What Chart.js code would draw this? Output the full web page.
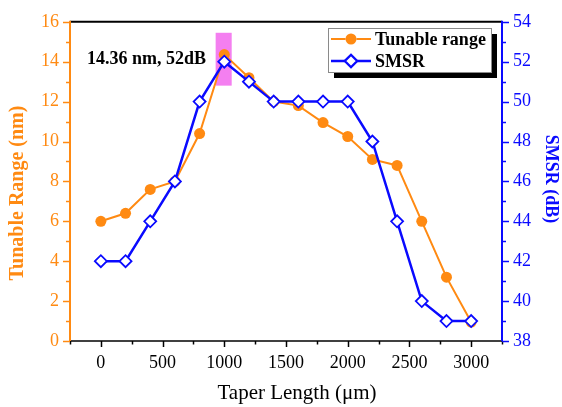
<!DOCTYPE html>
<html><head><meta charset="utf-8">
<script src="https://cdn.jsdelivr.net/npm/chart.js@4/dist/chart.umd.min.js"></script>
<style>html,body{margin:0;padding:0;background:#fff}</style>
</head><body>
<canvas id="c" width="562" height="407"></canvas>
<script>
const taperLength = [0, 200, 400, 600, 800, 1000, 1200, 1400, 1600, 1800, 2000, 2200, 2400, 2600, 2800, 3000];
const tunableRange = [6.0, 6.4, 7.6, 8.0, 10.4, 14.36, 13.2, 12.0, 11.8, 10.95, 10.25, 9.1, 8.8, 6.0, 3.2, 0.95];
const smsr = [42, 42, 44, 46, 50, 52, 51, 50, 50, 50, 50, 48, 44, 40, 39, 39];
const xTickLabels = [0, 500, 1000, 1500, 2000, 2500, 3000];
const leftTickLabels = [0, 2, 4, 6, 8, 10, 12, 14, 16];
const rightTickLabels = [38, 40, 42, 44, 46, 48, 50, 52, 54];
const seriesNames = ['Tunable range', 'SMSR'];
const axisTitles = { x: 'Taper Length (\u03bcm)', left: 'Tunable Range (nm)', right: 'SMSR (dB)' };
const annotationText = '14.36 nm, 52dB';
const highlightXRange = [930, 1060];
const highlightYRange = [12.8, 15.45];

const ORANGE = '#ff8a12';
const BLUE = '#0a0aff';
const SERIF = '"Liberation Serif", "Times New Roman", serif';

function rangeTicks(min, max, step) {
  const t = [];
  for (let v = min; v <= max + 1e-9; v += step) t.push({ value: +v.toFixed(6) });
  return t;
}

const custom = {
  id: 'custom',
  beforeDatasetsDraw(chart) {
    const { ctx } = chart;
    const x = chart.scales.x, y = chart.scales.y;
    const x0 = x.getPixelForValue(highlightXRange[0]), x1 = x.getPixelForValue(highlightXRange[1]);
    const y0 = y.getPixelForValue(highlightYRange[1]), y1 = y.getPixelForValue(highlightYRange[0]);
    ctx.save();
    ctx.fillStyle = '#f47ff0';
    ctx.fillRect(x0, y0, x1 - x0, y1 - y0);
    ctx.restore();
  },
  afterDraw(chart) {
    const { ctx, chartArea: a } = chart;
    const x = chart.scales.x, y = chart.scales.y, y1 = chart.scales.y1;
    ctx.save();
    // top frame line
    ctx.strokeStyle = '#000'; ctx.lineWidth = 2;
    ctx.beginPath(); ctx.moveTo(a.left, a.top); ctx.lineTo(a.right, a.top); ctx.stroke();
    // bottom axis
    ctx.lineWidth = 1.5; ctx.strokeStyle = '#000';
    ctx.beginPath(); ctx.moveTo(a.left, a.bottom); ctx.lineTo(a.right, a.bottom); ctx.stroke();
    x.ticks.forEach(t => {
      const px = Math.round(x.getPixelForValue(t.value)) + 0.5;
      const major = t.value % 500 === 0;
      ctx.beginPath(); ctx.moveTo(px, a.bottom); ctx.lineTo(px, a.bottom + (major ? 6 : 3.5)); ctx.stroke();
    });
    // left axis
    ctx.strokeStyle = ORANGE; ctx.lineWidth = 2;
    ctx.beginPath(); ctx.moveTo(a.left, a.top - 1); ctx.lineTo(a.left, a.bottom); ctx.stroke();
    ctx.lineWidth = 1.5;
    y.ticks.forEach(t => {
      const py = Math.round(y.getPixelForValue(t.value)) + 0.5;
      const major = t.value % 2 === 0;
      ctx.beginPath(); ctx.moveTo(a.left, py); ctx.lineTo(a.left - (major ? 7 : 4), py); ctx.stroke();
    });
    // right axis
    ctx.strokeStyle = BLUE; ctx.lineWidth = 2;
    ctx.beginPath(); ctx.moveTo(a.right, a.top - 1); ctx.lineTo(a.right, a.bottom); ctx.stroke();
    ctx.lineWidth = 1.5;
    y1.ticks.forEach(t => {
      const py = Math.round(y1.getPixelForValue(t.value)) + 0.5;
      const major = t.value % 2 === 0;
      ctx.beginPath(); ctx.moveTo(a.right, py); ctx.lineTo(a.right + (major ? 7 : 4), py); ctx.stroke();
    });
    // axis titles
    ctx.textAlign = 'center'; ctx.textBaseline = 'middle';
    ctx.fillStyle = '#000'; ctx.font = '21px ' + SERIF;
    ctx.fillText(axisTitles.x, 297, 393);
    ctx.save();
    ctx.translate(18, 193); ctx.rotate(-Math.PI / 2);
    ctx.fillStyle = ORANGE; ctx.font = 'bold 20px ' + SERIF;
    ctx.fillText(axisTitles.left, 0, 0);
    ctx.restore();
    ctx.save();
    ctx.translate(551, 179); ctx.rotate(Math.PI / 2);
    ctx.fillStyle = BLUE; ctx.font = 'bold 18px ' + SERIF;
    ctx.fillText(axisTitles.right, 0, 0);
    ctx.restore();
    // annotation
    ctx.textAlign = 'left'; ctx.textBaseline = 'alphabetic';
    ctx.fillStyle = '#000'; ctx.font = 'bold 18px ' + SERIF;
    ctx.fillText(annotationText, 87, 64);
    // legend
    const bx = 328, by = 28, bw = 163, bh = 44;
    ctx.fillStyle = '#000'; ctx.fillRect(bx + 6, by + 6, bw, bh);
    ctx.fillStyle = '#fff'; ctx.fillRect(bx, by, bw, bh);
    ctx.strokeStyle = '#8a8a8a'; ctx.lineWidth = 1;
    ctx.strokeRect(bx + 0.5, by + 0.5, bw, bh);
    chart.data.datasets.forEach((ds, i) => {
      const ly = by + 11 + i * 22;
      ctx.strokeStyle = ds.borderColor; ctx.lineWidth = ds.borderWidth;
      ctx.beginPath(); ctx.moveTo(331, ly); ctx.lineTo(371, ly); ctx.stroke();
      Chart.helpers.drawPoint(ctx, {
        pointStyle: ds.pointStyle, radius: ds.pointRadius, borderWidth: ds.pointBorderWidth, rotation: 0
      }, 351, ly);
      ctx.fillStyle = ds.pointBackgroundColor; ctx.strokeStyle = ds.pointBorderColor; ctx.lineWidth = ds.pointBorderWidth;
      ctx.beginPath();
      if (ds.pointStyle === 'circle') ctx.arc(351, ly, ds.pointRadius, 0, Math.PI * 2);
      else { const r = ds.pointRadius; ctx.moveTo(351 - r, ly); ctx.lineTo(351, ly - r); ctx.lineTo(351 + r, ly); ctx.lineTo(351, ly + r); ctx.closePath(); }
      ctx.fill(); if (ds.pointBorderWidth > 0) ctx.stroke();
      ctx.fillStyle = '#000'; ctx.font = 'bold 18px ' + SERIF;
      ctx.textBaseline = 'middle';
      ctx.fillText(ds.label, 375, ly + 1);
    });
    ctx.restore();
  }
};

new Chart(document.getElementById('c'), {
  type: 'line',
  data: {
    datasets: [
      {
        label: seriesNames[0],
        data: taperLength.map((v, i) => ({ x: v, y: tunableRange[i] })),
        yAxisID: 'y',
        borderColor: ORANGE, backgroundColor: ORANGE,
        pointBackgroundColor: ORANGE, pointBorderColor: ORANGE,
        pointStyle: 'circle', pointRadius: 5.5, pointBorderWidth: 0,
        borderWidth: 2, order: 1
      },
      {
        label: seriesNames[1],
        data: taperLength.map((v, i) => ({ x: v, y: smsr[i] })),
        yAxisID: 'y1',
        borderColor: BLUE, backgroundColor: '#fff',
        pointBackgroundColor: '#fff', pointBorderColor: BLUE,
        pointStyle: 'rectRot', pointRadius: 6, pointBorderWidth: 1.8,
        borderWidth: 2.5, order: 0
      }
    ]
  },
  options: {
    responsive: false, animation: false,
    layout: { padding: { top: 19, left: 0, right: 0, bottom: 0 } },
    plugins: { legend: { display: false }, tooltip: { enabled: false } },
    elements: { line: { tension: 0 } },
    scales: {
      x: {
        type: 'linear', min: -250, max: 3250,
        afterBuildTicks: s => { s.ticks = rangeTicks(-250, 3250, 250); },
        afterFit: s => { s.height = 66; },
        grid: { display: false, drawTicks: false },
        border: { display: false },
        ticks: {
          autoSkip: false, maxRotation: 0, padding: 11,
          color: '#000', font: { family: SERIF, size: 18 },
          callback: v => xTickLabels.includes(v) ? String(v) : ''
        }
      },
      y: {
        position: 'left', min: 0, max: 16,
        afterBuildTicks: s => { s.ticks = rangeTicks(0, 16, 1); },
        afterFit: s => { s.width = 70; },
        grid: { display: false, drawTicks: false },
        border: { display: false },
        ticks: {
          autoSkip: false, padding: 11, color: ORANGE, font: { family: SERIF, size: 18 },
          callback: v => leftTickLabels.includes(v) ? String(v) : ''
        }
      },
      y1: {
        position: 'right', min: 38, max: 54,
        afterBuildTicks: s => { s.ticks = rangeTicks(38, 54, 1); },
        afterFit: s => { s.width = 60; },
        grid: { display: false, drawTicks: false },
        border: { display: false },
        ticks: {
          autoSkip: false, padding: 11, color: BLUE, font: { family: SERIF, size: 18 },
          callback: v => rightTickLabels.includes(v) ? String(v) : ''
        }
      }
    }
  },
  plugins: [custom]
});
</script>
</body></html>
